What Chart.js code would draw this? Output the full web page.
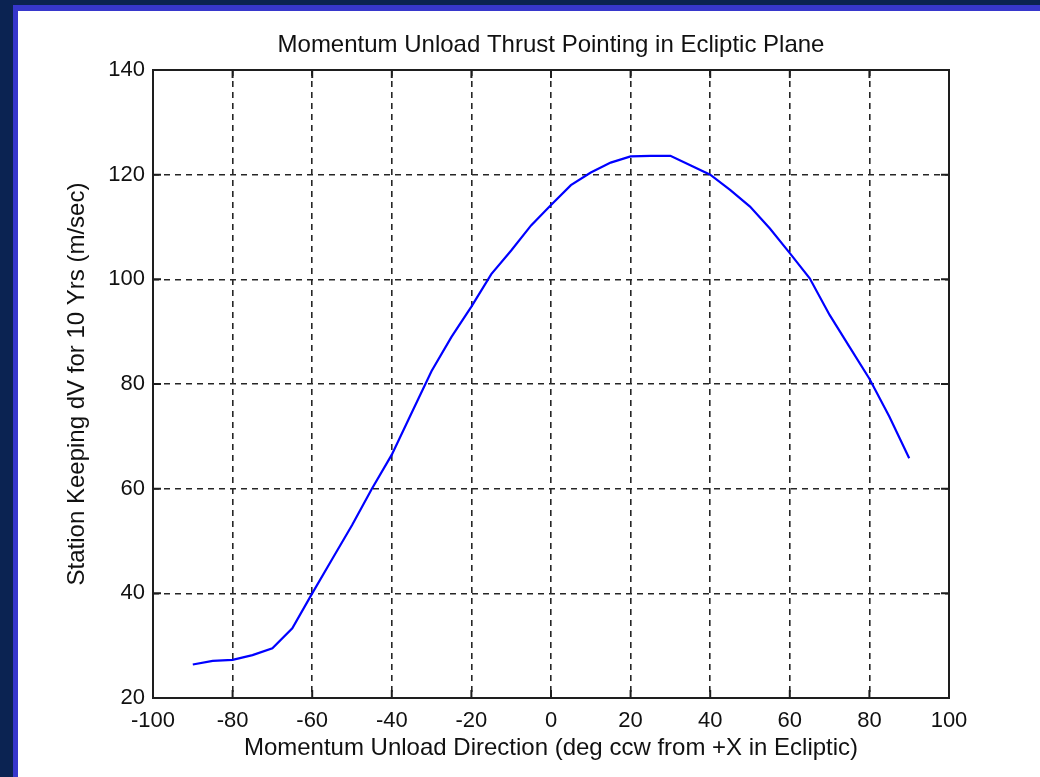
<!DOCTYPE html>
<html>
<head>
<meta charset="utf-8">
<title>Momentum Unload Thrust Pointing in Ecliptic Plane</title>
<script src="https://cdn.jsdelivr.net/npm/chart.js@4.4.1/dist/chart.umd.min.js"></script>
<style>
    html, body { margin: 0; padding: 0; width: 1040px; height: 777px; overflow: hidden; background: #0b2352; }
    #edge { position: absolute; left: 13px; top: 5px; right: 0; bottom: 0; background: #3737cc; }
    #panel { position: absolute; left: 18px; top: 11px; right: 0; bottom: 0; background: #ffffff; }
    #chart { position: absolute; left: 0; top: 0; }
</style>
</head>
<body>
<div id="edge"></div>
<div id="panel"></div>
<canvas id="chart" width="1102" height="777"></canvas>
<script>
// unload direction (deg ccw from +X) and station keeping dV (m/sec)
const directions = [-90, -85, -80, -75, -70, -65, -60, -55, -50, -45, -40, -35, -30, -25, -20, -15, -10, -5,
    0, 5, 10, 15, 20, 25, 30, 35, 40, 45, 50, 55, 60, 65, 70, 75, 80, 85, 90];
const deltaV = [26.4, 27.1, 27.3, 28.2, 29.5, 33.3, 40.0, 46.5, 53.0, 60.0, 66.5, 74.5, 82.5, 89.0, 94.8, 101.0, 105.5, 110.3,
    114.2, 118.0, 120.4, 122.3, 123.5, 123.6, 123.6, 121.8, 120.0, 117.1, 113.9, 109.7, 105.0, 100.2, 93.2, 87.1, 81.0, 73.8, 65.8];

const xTicks = [-100, -80, -60, -40, -20, 0, 20, 40, 60, 80, 100];
const yTicks = [20, 40, 60, 80, 100, 120, 140];

const FONT = "'Liberation Sans', Arial, sans-serif";
const INK = '#111111';

// box around the axes plus short inward tick marks, matlab style
const axesFrame = {
    id: 'axesFrame',
    afterDraw(chart) {
        const { ctx, chartArea: a, scales } = chart;
        const len = 8;
        ctx.save();
        ctx.strokeStyle = '#1e1e1e';
        ctx.lineWidth = 2;
        ctx.setLineDash([]);
        ctx.beginPath();
        xTicks.forEach(v => {
            const px = scales.x.getPixelForValue(v);
            ctx.moveTo(px, a.bottom); ctx.lineTo(px, a.bottom - len);
            ctx.moveTo(px, a.top); ctx.lineTo(px, a.top + len);
        });
        yTicks.forEach(v => {
            const py = scales.y.getPixelForValue(v);
            ctx.moveTo(a.left, py); ctx.lineTo(a.left + len, py);
            ctx.moveTo(a.right, py); ctx.lineTo(a.right - len, py);
        });
        ctx.stroke();
        ctx.strokeRect(a.left, a.top, a.right - a.left, a.bottom - a.top);
        ctx.restore();
    }
};

const points = directions.map((d, i) => ({ x: d, y: deltaV[i] }));

new Chart(document.getElementById('chart'), {
    type: 'line',
    data: {
        datasets: [{
            data: points,
            borderColor: '#0000ff',
            borderWidth: 2.2,
            pointRadius: 0,
            tension: 0,
            fill: false
        }]
    },
    options: {
        responsive: false,
        animation: false,
        devicePixelRatio: 1,
        layout: { padding: 0 },
        plugins: {
            legend: { display: false },
            tooltip: { enabled: false },
            title: {
                display: true,
                text: 'Momentum Unload Thrust Pointing in Ecliptic Plane',
                color: INK,
                font: { family: FONT, size: 24, weight: 'normal', lineHeight: 1.2 },
                padding: { top: 31, bottom: 10.2 }
            }
        },
        scales: {
            x: {
                type: 'linear',
                min: -100,
                max: 100,
                afterFit: (scale) => { scale.height = 79; },
                afterBuildTicks: (scale) => { scale.ticks = xTicks.map(v => ({ value: v })); },
                ticks: {
                    color: INK,
                    font: { family: FONT, size: 22 },
                    padding: 10,
                    maxRotation: 0,
                    autoSkip: false
                },
                grid: { color: '#262626', lineWidth: 1.6, drawTicks: false },
                border: { display: false, dash: [6, 5] },
                title: {
                    display: true,
                    text: 'Momentum Unload Direction (deg ccw from +X in Ecliptic)',
                    color: INK,
                    font: { family: FONT, size: 24, lineHeight: 1.2 },
                    padding: { top: 0, bottom: 14 }
                }
            },
            y: {
                type: 'linear',
                min: 20,
                max: 140,
                afterFit: (scale) => { scale.width = 153; },
                afterBuildTicks: (scale) => { scale.ticks = yTicks.map(v => ({ value: v })); },
                ticks: {
                    color: INK,
                    font: { family: FONT, size: 22 },
                    padding: 8,
                    autoSkip: false
                },
                grid: { color: '#262626', lineWidth: 1.6, drawTicks: false },
                border: { display: false, dash: [6, 5] },
                title: {
                    display: true,
                    text: 'Station Keeping dV for 10 Yrs (m/sec)',
                    color: INK,
                    font: { family: FONT, size: 24, lineHeight: 1.2 },
                    padding: { top: 63, bottom: 0 }
                }
            },
            // empty right-hand box so the plot and the title share one centre
            spacer: {
                type: 'linear',
                position: 'right',
                afterFit: (scale) => { scale.width = 153; },
                ticks: { display: false },
                grid: { display: false, drawTicks: false },
                border: { display: false }
            }
        }
    },
    plugins: [axesFrame]
});
</script>
</body>
</html>
